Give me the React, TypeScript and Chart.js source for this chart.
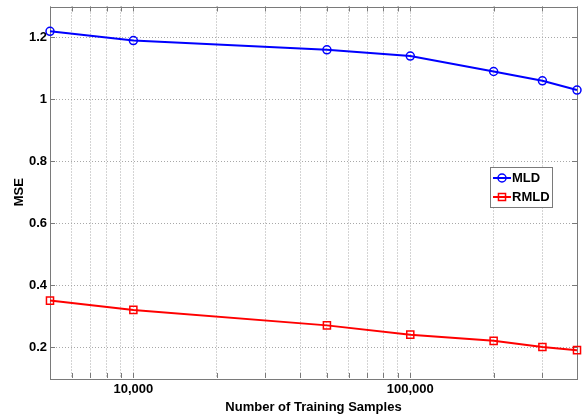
import React, { useEffect, useRef } from 'react';
import { Chart, registerables } from 'chart.js';

Chart.register(...registerables);

const sampleCounts = [5000, 10000, 50000, 100000, 200000, 300000, 400000];
const mldValues = [1.22, 1.19, 1.16, 1.14, 1.09, 1.06, 1.03];
const rmldValues = [0.35, 0.32, 0.27, 0.24, 0.22, 0.2, 0.19];
const seriesNames = ['MLD', 'RMLD'];
const xTickValues = [
  5000, 6000, 7000, 8000, 9000, 10000, 20000, 30000, 40000, 50000, 60000, 70000, 80000, 90000,
  100000, 200000, 300000, 400000,
];
const xTickLabels: Record<number, string> = { 10000: '10,000', 100000: '100,000' };
const yTickValues = [0.2, 0.4, 0.6, 0.8, 1.0, 1.2];

const FONT = '"Liberation Sans", Arial, Helvetica, sans-serif';
const FRAME = '#7a7a7a';

const framePlugin = {
  id: 'matlabFrame',
  beforeDatasetsDraw(chart: any) {
    const { ctx, chartArea: a, scales } = chart;
    ctx.save();
    ctx.strokeStyle = FRAME;
    ctx.lineWidth = 1;
    ctx.beginPath();
    xTickValues.forEach((v) => {
      const x = Math.round(scales.x.getPixelForValue(v)) + 0.5;
      ctx.moveTo(x, a.bottom);
      ctx.lineTo(x, a.bottom - 5);
      ctx.moveTo(x, a.top);
      ctx.lineTo(x, a.top + 5);
    });
    yTickValues.forEach((v) => {
      const y = Math.round(scales.y.getPixelForValue(v)) + 0.5;
      ctx.moveTo(a.left, y);
      ctx.lineTo(a.left + 5, y);
      ctx.moveTo(a.right, y);
      ctx.lineTo(a.right - 5, y);
    });
    ctx.stroke();
    ctx.strokeRect(
      Math.round(a.left) + 0.5,
      Math.round(a.top) + 0.5,
      Math.round(a.right - a.left),
      Math.round(a.bottom - a.top)
    );
    ctx.restore();
  },
};

const legendPlugin = {
  id: 'insideLegend',
  afterDraw(chart: any) {
    const { ctx, chartArea: a } = chart;
    const w = 62;
    const h = 40;
    const x0 = Math.round(a.right - 25 - w);
    const y0 = Math.round(a.top + 160);
    ctx.save();
    ctx.fillStyle = '#ffffff';
    ctx.fillRect(x0, y0, w, h);
    ctx.strokeStyle = FRAME;
    ctx.lineWidth = 1;
    ctx.strokeRect(x0 + 0.5, y0 + 0.5, w, h);
    ctx.font = `bold 13px ${FONT}`;
    ctx.textBaseline = 'middle';
    ctx.textAlign = 'left';
    chart.data.datasets.forEach((ds: any, i: number) => {
      const cy = y0 + 11 + i * 19;
      const mx = x0 + 12;
      ctx.strokeStyle = ds.borderColor;
      ctx.lineWidth = 2;
      ctx.beginPath();
      ctx.moveTo(x0 + 3, cy);
      ctx.lineTo(x0 + 21, cy);
      ctx.stroke();
      ctx.lineWidth = 1.5;
      ctx.beginPath();
      if (ds.pointStyle === 'rect') {
        const s = Math.SQRT1_2 * ds.pointRadius;
        ctx.rect(mx - s, cy - s, 2 * s, 2 * s);
      } else {
        ctx.arc(mx, cy, ds.pointRadius, 0, Math.PI * 2);
      }
      ctx.stroke();
      ctx.fillStyle = '#000000';
      ctx.fillText(ds.label, x0 + 22, cy + 0.5);
    });
    ctx.restore();
  },
};

export default function App() {
  const ref = useRef<HTMLCanvasElement>(null);

  useEffect(() => {
    document.body.style.margin = '0';
    const toPts = (ys: number[]) => sampleCounts.map((x, i) => ({ x, y: ys[i] }));
    const chart = new Chart(ref.current as HTMLCanvasElement, {
      type: 'line',
      data: {
        datasets: [
          {
            label: seriesNames[0],
            data: toPts(mldValues),
            borderColor: '#0000ff',
            backgroundColor: 'rgba(0,0,0,0)',
            pointBorderColor: '#0000ff',
            pointBackgroundColor: 'rgba(0,0,0,0)',
            pointStyle: 'circle',
            pointRadius: 4,
            pointBorderWidth: 1.5,
            borderWidth: 2,
            tension: 0,
            clip: false,
          } as any,
          {
            label: seriesNames[1],
            data: toPts(rmldValues),
            borderColor: '#ff0000',
            backgroundColor: 'rgba(0,0,0,0)',
            pointBorderColor: '#ff0000',
            pointBackgroundColor: 'rgba(0,0,0,0)',
            pointStyle: 'rect',
            pointRadius: 5,
            pointBorderWidth: 1.5,
            borderWidth: 2,
            tension: 0,
            clip: false,
          } as any,
        ],
      },
      options: {
        responsive: false,
        animation: false,
        events: [],
        layout: { padding: { top: 5, right: 8, left: 0, bottom: 0 } },
        plugins: {
          legend: { display: false },
          tooltip: { enabled: false },
        },
        scales: {
          x: {
            type: 'logarithmic',
            min: 5000,
            max: 400000,
            afterBuildTicks: (s: any) => {
              s.ticks = xTickValues.map((v) => ({ value: v }));
            },
            afterFit: (s: any) => {
              s.height = 40;
              s.paddingLeft = 0;
              s.paddingRight = 0;
              s.paddingTop = 0;
              s.paddingBottom = 0;
            },
            ticks: {
              autoSkip: false,
              maxRotation: 0,
              minRotation: 0,
              padding: 4,
              color: '#000000',
              font: { family: FONT, size: 13, weight: 'bold' },
              callback: (v: any) => xTickLabels[Number(v)] ?? '',
            },
            grid: { color: '#a8a8a8', lineWidth: 1, drawTicks: false },
            border: { display: false, dash: [1, 2] },
            title: {
              display: true,
              text: 'Number of Training Samples',
              color: '#000000',
              font: { family: FONT, size: 13, weight: 'bold' },
              padding: { top: 0, bottom: 3 },
            },
          },
          y: {
            type: 'linear',
            min: 0.1,
            max: 1.3,
            afterBuildTicks: (s: any) => {
              s.ticks = yTickValues.map((v) => ({ value: v }));
            },
            afterFit: (s: any) => {
              s.width = 50;
              s.paddingTop = 0;
              s.paddingBottom = 0;
              s.paddingLeft = 0;
              s.paddingRight = 0;
            },
            ticks: {
              padding: 3,
              color: '#000000',
              font: { family: FONT, size: 13, weight: 'bold' },
              callback: (v: any) => String(Number(Number(v).toFixed(1))),
            },
            grid: { color: '#a8a8a8', lineWidth: 1, drawTicks: false },
            border: { display: false, dash: [1, 2] },
            title: {
              display: true,
              text: 'MSE',
              color: '#000000',
              font: { family: FONT, size: 13, weight: 'bold' },
              padding: { top: 12, bottom: 0 },
            },
          },
        },
      } as any,
      plugins: [framePlugin, legendPlugin],
    });
    return () => chart.destroy();
  }, []);

  return (
    <div style={{ position: 'fixed', left: 0, top: 0, width: 585, height: 418 }}>
      <canvas ref={ref} width={585} height={418} style={{ display: 'block' }} />
    </div>
  );
}
